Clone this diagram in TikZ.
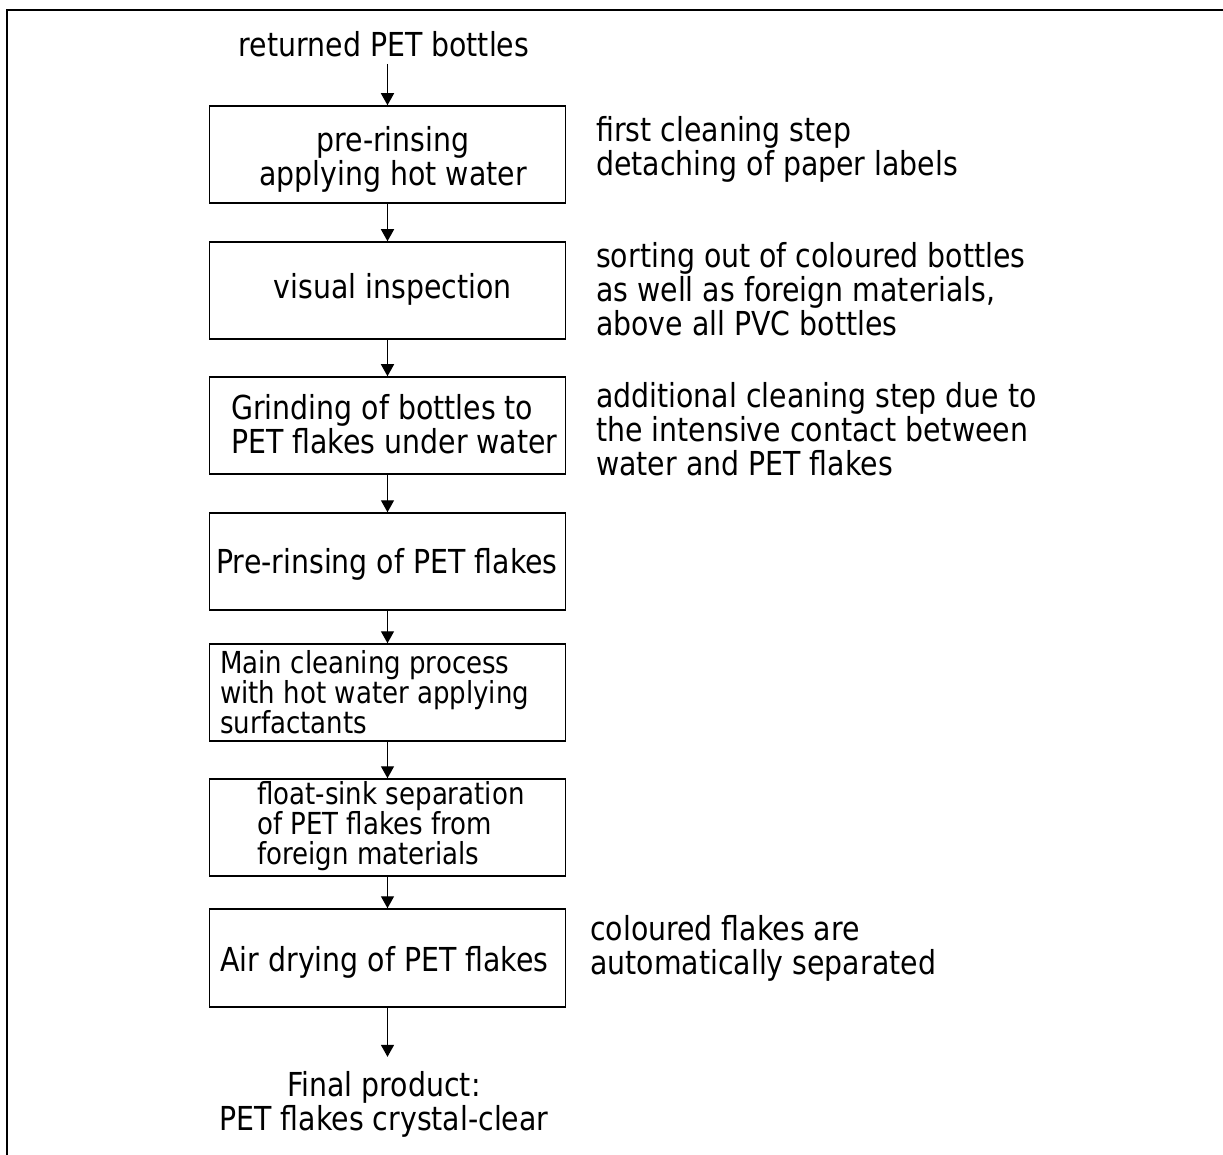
\documentclass[tikz,border=0pt]{standalone}
\usepackage{fontspec}
\setmainfont{DejaVu Sans}[FakeStretch=0.86]
\usetikzlibrary{arrows.meta}
\begin{document}
\begin{tikzpicture}[x=1pt,y=-1pt,
  stepbox/.style={draw, line width=1.5pt, minimum width=356pt, minimum height=97pt, inner sep=0pt},
  txt/.style={inner sep=0pt, font=\fontsize{33}{34}\selectfont},
  smalltxt/.style={inner sep=0pt, font=\fontsize{30.3}{30}\selectfont},
  arr/.style={line width=1.4pt, -{Triangle[length=12pt,width=13pt]}},
  frame/.style={line width=2pt}
]
\useasboundingbox (0,0) rectangle (1223,1155);
\draw[frame] (6.5,1155) -- (6.5,10) -- (1223,10);

% boxes
\node[stepbox, minimum height=97pt] (b1) at (387.5,154.5) {};
\node[stepbox, minimum height=97pt] (b2) at (387.5,290.5) {};
\node[stepbox, minimum height=97pt] (b3) at (387.5,425.5) {};
\node[stepbox, minimum height=97pt] (b4) at (387.5,561.5) {};
\node[stepbox, minimum height=97pt] (b5) at (387.5,692.5) {};
\node[stepbox, minimum height=97pt] (b6) at (387.5,827.5) {};
\node[stepbox, minimum height=98pt] (b7) at (387.5,958) {};

% box texts
\node[txt, anchor=base] (start) at (384,57) {returned PET bottles};
\node[txt, align=center] (t1) at (393,159) {pre-rinsing\\applying hot water};
\node[txt, anchor=base] (t2) at (392.5,298.3) {visual inspection};
\node[txt, align=left, anchor=west] (t3) at (231,424.5) {Grinding of bottles to\\PET flakes under water};
\node[txt, anchor=base] (t4) at (387,573.3) {Pre-rinsing of PET flakes};
\node[smalltxt, align=left, anchor=west] (t5) at (220,692) {Main cleaning process\\with hot water applying\\surfactants};
\node[smalltxt, align=left, anchor=west] (t6) at (257,826.5) {float-sink separation\\of PET flakes from\\foreign materials};
\node[txt, anchor=base] (t7) at (384.5,971) {Air drying of PET flakes};
\node[txt, align=center] (fin) at (384,1104) {Final product:\\PET flakes crystal-clear};

% annotations
\node[txt, align=left, anchor=west] (a1) at (596,149) {first cleaning step\\detaching of paper labels};
\node[txt, align=left, anchor=west] (a2) at (596,289) {sorting out of coloured bottles\\as well as foreign materials,\\above all PVC bottles};
\node[txt, align=left, anchor=west] (a3) at (596,429) {additional cleaning step due to\\the intensive contact between\\water and PET flakes};
\node[txt, align=left, anchor=west] (a7) at (590,948.5) {coloured flakes are\\automatically separated};

% connectors
\coordinate (s0) at ([yshift=-7pt]start.base -| b1.north);
\draw[arr] (s0) -- (b1.north);
\draw[arr] (b1.south) -- (b2.north);
\draw[arr] (b2.south) -- (b3.north);
\draw[arr] (b3.south) -- (b4.north);
\draw[arr] (b4.south) -- (b5.north);
\draw[arr] (b5.south) -- (b6.north);
\draw[arr] (b6.south) -- (b7.north);
\draw[arr] (b7.south) -- ([yshift=14pt]fin.north -| b7.south);
\end{tikzpicture}
\end{document}
